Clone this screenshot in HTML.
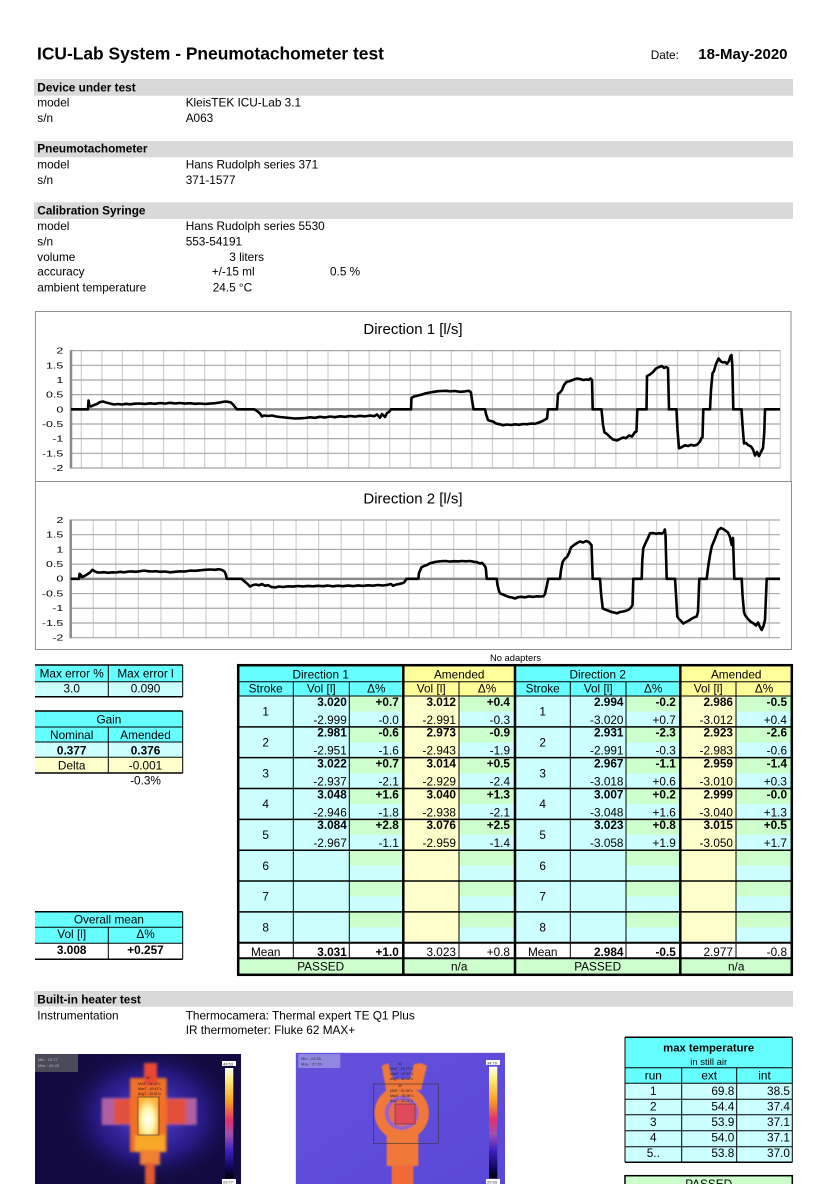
<!DOCTYPE html>
<html><head><meta charset="utf-8"><style>
html,body{margin:0;padding:0;background:#fff;}
body{width:835px;height:1184px;overflow:hidden;}
svg{display:block;}
text{font-family:"Liberation Sans",Arial,sans-serif;}
</style></head><body>
<svg width="835" height="1184" viewBox="0 0 835 1184" xmlns="http://www.w3.org/2000/svg" font-size="11.8">
<defs>
<linearGradient id="cbar" x1="0" y1="0" x2="0" y2="1">
<stop offset="0" stop-color="#ffffff"/><stop offset="0.1" stop-color="#fff080"/><stop offset="0.3" stop-color="#f8a020"/><stop offset="0.48" stop-color="#e03070"/><stop offset="0.6" stop-color="#a050b0"/><stop offset="0.75" stop-color="#4020c0"/><stop offset="0.9" stop-color="#100860"/><stop offset="1" stop-color="#000000"/>
</linearGradient>
<radialGradient id="glow1" cx="0.5" cy="0.5" r="0.5"><stop offset="0" stop-color="#5a48e0" stop-opacity="1"/><stop offset="0.6" stop-color="#3020a0" stop-opacity="0.7"/><stop offset="1" stop-color="#120a40" stop-opacity="0"/></radialGradient>
<radialGradient id="core" cx="0.5" cy="0.6" r="0.6"><stop offset="0" stop-color="#ffffff"/><stop offset="0.5" stop-color="#fff6b0"/><stop offset="1" stop-color="#ffb030"/></radialGradient>
<linearGradient id="bg2" x1="0" y1="0" x2="1" y2="1"><stop offset="0" stop-color="#6450dc"/><stop offset="1" stop-color="#5a48d8"/></linearGradient>
<clipPath id="c1"><rect x="35" y="1054" width="206" height="130"/></clipPath>
<clipPath id="c2"><rect x="295.7" y="1052.7" width="209.3" height="131.3"/></clipPath>
<clipPath id="c3"><rect x="600" y="1170" width="200" height="14"/></clipPath>
<filter id="bl" x="-20%" y="-20%" width="140%" height="140%"><feGaussianBlur stdDeviation="1.3"/></filter>
<filter id="bl2" x="-20%" y="-20%" width="140%" height="140%"><feGaussianBlur stdDeviation="0.6"/></filter>
</defs>

<!-- Header -->
<text x="37" y="59.7" font-size="17.4" font-weight="bold">ICU-Lab System - Pneumotachometer test</text>
<text x="650.7" y="59">Date:</text>
<text x="698.3" y="59" font-size="15" font-weight="bold">18-May-2020</text>

<rect x="34" y="79" width="759" height="16.7" fill="#d9d9d9"/>
<text x="37.3" y="91.3" font-weight="bold">Device under test</text>
<text x="37.3" y="106.5">model</text><text x="185.7" y="106.5">KleisTEK ICU-Lab 3.1</text>
<text x="37.3" y="122">s/n</text><text x="185.7" y="122">A063</text>

<rect x="34" y="141" width="759" height="16.3" fill="#d9d9d9"/>
<text x="37.3" y="152.7" font-weight="bold">Pneumotachometer</text>
<text x="37.3" y="168.3">model</text><text x="185.7" y="168.3">Hans Rudolph series 371</text>
<text x="37.3" y="184">s/n</text><text x="185.7" y="184">371-1577</text>

<rect x="34" y="202.3" width="759" height="16.7" fill="#d9d9d9"/>
<text x="37.3" y="214.7" font-weight="bold">Calibration Syringe</text>
<text x="37.3" y="230">model</text><text x="185.7" y="230">Hans Rudolph series 5530</text>
<text x="37.3" y="245.3">s/n</text><text x="185.7" y="245.3">553-54191</text>
<text x="37.3" y="261">volume</text><text x="229.3" y="261">3 liters</text>
<text x="37.3" y="275.7">accuracy</text><text x="211.7" y="275.7">+/-15 ml</text><text x="330" y="275.7">0.5 %</text>
<text x="37.3" y="291.7">ambient temperature</text><text x="212.7" y="291.7">24.5 °C</text>

<!-- Chart 1 -->
<rect x="35.5" y="311.5" width="755.5" height="170" fill="#fff" stroke="#909090" stroke-width="1"/>
<text x="413" y="334" font-size="15" text-anchor="middle">Direction 1 [l/s]</text>
<path d="M81.3 350.7V468M101.86 350.7V468M122.42 350.7V468M142.98 350.7V468M163.54 350.7V468M184.1 350.7V468M204.66 350.7V468M225.22 350.7V468M245.78 350.7V468M266.34 350.7V468M286.9 350.7V468M307.46 350.7V468M328.02 350.7V468M348.58 350.7V468M369.14 350.7V468M389.7 350.7V468M410.26 350.7V468M430.82 350.7V468M451.38 350.7V468M471.94 350.7V468M492.5 350.7V468M513.06 350.7V468M533.62 350.7V468M554.18 350.7V468M574.74 350.7V468M595.3 350.7V468M615.86 350.7V468M636.42 350.7V468M656.98 350.7V468M677.54 350.7V468M698.1 350.7V468M718.66 350.7V468M739.22 350.7V468M759.78 350.7V468M780.34 350.7V468" stroke="#cfcfcf" stroke-width="1.2" fill="none"/>
<path d="M71 350.66H780.3M71 365.33H780.3M71 380H780.3M71 394.66H780.3M71 424H780.3M71 438.66H780.3M71 453.33H780.3M71 468H780.3" stroke="#a8a8a8" stroke-width="1.2" fill="none"/>
<path d="M71 409.33H780.3" stroke="#8a8a8a" stroke-width="2.5"/>
<path d="M71 350.2V468.5" stroke="#8a8a8a" stroke-width="2.5"/>
<g font-size="8.3" text-anchor="end">
<text transform="translate(63.3,353.6) scale(1.5,1)">2</text>
<text transform="translate(63.3,368.3) scale(1.5,1)">1.5</text>
<text transform="translate(63.3,382.9) scale(1.5,1)">1</text>
<text transform="translate(63.3,397.6) scale(1.5,1)">0.5</text>
<text transform="translate(63.3,412.3) scale(1.5,1)">0</text>
<text transform="translate(63.3,426.9) scale(1.5,1)">-0.5</text>
<text transform="translate(63.3,441.6) scale(1.5,1)">-1</text>
<text transform="translate(63.3,456.3) scale(1.5,1)">-1.5</text>
<text transform="translate(63.3,470.9) scale(1.5,1)">-2</text>
</g>
<polyline fill="none" stroke="#000" stroke-width="2.6" stroke-linejoin="round" points="71,409.3 88,409.3 88.5,400.5 89.5,406 91,406.5 94,405 97,404 100,402 103,401.5 106,402.5 110,403.5 114,404.5 118,404 122,404.5 126,403.8 130,404.3 135,403.7 140,403.5 145,404 150,403.3 155,403.8 160,403 165,403.6 170,402.8 175,403.4 180,403 185,403.6 190,403.2 195,403.8 200,403.5 205,404 210,403.6 215,403.2 220,402.5 225,401.5 228,401.8 231,402.5 233,404.5 235,407 237,409.3 254,409.3 257,411 260,413.5 262,416.5 264,415.5 268,416 272,415.5 276,416.5 280,417 285,417.5 290,418 295,418.5 300,418.3 305,418 310,417.3 315,417.8 320,416.8 325,417.5 330,416.5 335,417.2 340,416.3 345,416.8 350,416 355,416.6 360,415.8 365,416.4 370,415.5 374,416.2 377,414.5 380,417.8 382,414 385,417 387,413 389,412 391,409.3 411,409.3 411.5,398 414,396.5 418,395.5 422,394.5 426,393.3 430,392.5 434,391.8 438,391.2 442,391 446,390.8 450,391.3 455,391 460,391.8 465,391.4 469,390.8 471,392.5 472,400 473.5,409.3 485,409.3 486,414 488,420 490,420.8 493,421.5 496,423.5 500,424.3 503,425.2 507,424.5 511,425 515,424.3 519,424.8 523,424 527,424.2 531,423.6 535,423.8 539,422.5 543,420.8 546,419 547,418.5 548,409.3 557,409.3 558,394 560,392.5 562,390 564,385 566.5,382 570,381 574,379.5 577,378.5 580,379 583,380 586,379.5 589,379.8 590.5,378.5 592,380 592.7,409.3 601.5,409.3 603,425 604.5,432.5 607,434 610,437 613,439.5 617,440.5 620,439 623,437.5 626,438.2 629,435.5 632,436.5 635,432 636.5,431.5 637.3,409.3 646.5,409.3 647,376 650,374.5 653,372 656,368.5 659,367 662,366 664,368 666,367 668,368 669,409.3 676.5,409.3 677.5,430 679,448.3 682,447 685,445.2 688,446 691,444.8 694,445.6 697,444.8 700,441.5 701.5,438 702.5,437.5 703.3,409.3 710,409.3 711,390 712.5,373.3 714,371 716,364 718.5,358.5 721,361.5 723,362.5 725,362 727,363.8 729,361 730.5,356 731.5,355 732.3,365 733.3,409.3 741.5,409.3 742.5,425 744,443.5 746,443 748,445 751,446.5 753,449.5 755,455.5 757,452 759,456 761.5,451 763,448 764.3,432 765,409.3 780,409.3"/>

<!-- Chart 2 -->
<rect x="35.5" y="481.5" width="756" height="168" fill="#fff" stroke="#909090" stroke-width="1"/>
<text x="413" y="503.3" font-size="15" text-anchor="middle">Direction 2 [l/s]</text>
<path d="M93.3 520V637.7M115.83 520V637.7M138.36 520V637.7M160.89 520V637.7M183.42 520V637.7M205.95 520V637.7M228.48 520V637.7M251.01 520V637.7M273.54 520V637.7M296.07 520V637.7M318.6 520V637.7M341.13 520V637.7M363.66 520V637.7M386.19 520V637.7M408.72 520V637.7M431.25 520V637.7M453.78 520V637.7M476.31 520V637.7M498.84 520V637.7M521.37 520V637.7M543.9 520V637.7M566.43 520V637.7M588.96 520V637.7M611.49 520V637.7M634.02 520V637.7M656.55 520V637.7M679.08 520V637.7M701.61 520V637.7M724.14 520V637.7M746.67 520V637.7M769.2 520V637.7" stroke="#cfcfcf" stroke-width="1.2" fill="none"/>
<path d="M70.7 520H780M70.7 534.71H780M70.7 549.42H780M70.7 564.13H780M70.7 593.55H780M70.7 608.26H780M70.7 622.97H780M70.7 637.68H780" stroke="#a8a8a8" stroke-width="1.2" fill="none"/>
<path d="M70.7 578.84H780" stroke="#8a8a8a" stroke-width="2.5"/>
<path d="M70.7 519.5V638.2" stroke="#8a8a8a" stroke-width="2.5"/>
<g font-size="8.3" text-anchor="end">
<text transform="translate(63.3,522.9) scale(1.5,1)">2</text>
<text transform="translate(63.3,537.6) scale(1.5,1)">1.5</text>
<text transform="translate(63.3,552.3) scale(1.5,1)">1</text>
<text transform="translate(63.3,567) scale(1.5,1)">0.5</text>
<text transform="translate(63.3,581.7) scale(1.5,1)">0</text>
<text transform="translate(63.3,596.4) scale(1.5,1)">-0.5</text>
<text transform="translate(63.3,611.1) scale(1.5,1)">-1</text>
<text transform="translate(63.3,625.8) scale(1.5,1)">-1.5</text>
<text transform="translate(63.3,640.5) scale(1.5,1)">-2</text>
</g>
<polyline fill="none" stroke="#000" stroke-width="2.6" stroke-linejoin="round" points="70.7,578.8 79,578.8 79.5,573.8 81,575 82,577.2 84,576.2 87,574.5 90,572.5 92.5,569.8 94.5,571.2 97,572.3 100,572.6 104,572.2 108,572.8 112,572.3 116,572.5 120,571.8 124,572.3 128,571.6 132,571.4 136,571.8 140,571.2 144,570.6 148,571.2 152,571.5 156,571.2 160,571.8 165,571.5 170,572.3 175,571.8 180,571.3 185,571.5 190,570.6 195,570.8 200,570.3 205,569.8 210,569.5 215,569.8 219,569.2 222,570 224.5,571.5 226,575 226.7,578.8 241.5,578.8 244,581 247,583.5 250,586.5 253,585 256,584.5 259,585.3 262,584 265,585.8 268,585.2 271,586.8 275,587.5 279,586.5 283,587 288,586.3 293,586.6 298,586 303,586.4 308,585.9 313,586.3 318,585.8 323,586.2 328,585.6 333,586.3 338,585.7 343,586.2 348,585.6 353,586.1 358,585.4 363,585.9 368,585.3 373,585.7 378,585 383,585.5 388,584.8 391,584 393,585.8 396,584.6 399,584 402,583.3 404,582.5 406.7,578.8 418.3,578.8 419,573 421.5,567.3 424,566 427,565 430,563.3 434,562.2 438,561.5 442,561.2 446,561 450,561.6 454,561.2 458,561.4 462,561 466,561.3 470,561 474,561.8 477,562.2 480,563.5 482,562.8 484,565 485.5,567 486,570 486.7,578.8 496.7,578.8 497.5,585 499,591 500,593.3 503,594.5 506,595.8 509,597 512,597.5 515,598.5 518,597.2 521,596.8 525,597.3 529,596.4 533,596.9 537,596.3 541,596.5 543.5,596.2 545,594 548.3,578.8 560,578.8 561,570 562.7,561.7 565,558.5 567,557 569,553 571,547.5 574,545 577,543 580,541.5 583,542.5 586,541 589,542.2 590.5,544 591.5,545 592.7,578.8 600,578.8 601,593 602.7,608.3 605,609.5 608,610.5 611,611.8 614,612.5 617,613.3 620,612 623,611.5 626,610.8 629,609.5 631,607.5 632.5,605 633.3,578.8 641.7,578.8 642.3,560 643.3,548.3 646,542 648,538 650,533.3 653,533 656,533.8 659,533.2 662,533.6 664,532 664.8,529.5 665.5,535 666.7,578.8 675,578.8 676,595 677.3,616.7 679,619 681,621 683.3,623.5 686,622 689,620.5 692,618.5 694,617.5 696.7,616.5 698,612 699.3,578.8 706.7,578.8 708,568 710,555 711.7,546.7 714,541 716,536 718.3,530 721,528 724,529.5 726,531 728,532.5 730,537 731.7,545 733,538 734.3,578.8 741.7,578.8 742.5,595 744,612 745,615 748,619 751,622 753.3,623.3 756,625.5 758,622.5 760,627 761.7,630 763.5,626 765,620 766.7,578.8 780,578.8"/>

<text x="515.5" y="661" font-size="9.4" text-anchor="middle">No adapters</text>

<!-- Left small tables -->
<rect x="35" y="665" width="147.7" height="16.7" fill="#66ffff"/>
<rect x="35" y="681.7" width="147.7" height="15" fill="#ccffff"/>
<path d="M35 665H182.7M35 696.7H182.7" stroke="#000" stroke-width="1.5"/>
<path d="M35 681.7H182.7M108.3 665V696.7M182.7 665V696.7" stroke="#000" stroke-width="1"/>
<text x="71.7" y="677.3" text-anchor="middle">Max error %</text>
<text x="145.5" y="677.3" text-anchor="middle">Max error l</text>
<text x="71.7" y="692.3" text-anchor="middle">3.0</text>
<text x="145.5" y="692.3" text-anchor="middle">0.090</text>

<rect x="35" y="711" width="147.7" height="31" fill="#66ffff"/>
<rect x="35" y="742" width="147.7" height="15.3" fill="#ccffff"/>
<rect x="35" y="757.3" width="147.7" height="15.7" fill="#ffffcc"/>
<path d="M35 711H182.7M35 773H182.7" stroke="#000" stroke-width="1.5"/>
<path d="M35 727H182.7M35 742H182.7M35 757.3H182.7M108.3 727V773M182.7 711V773" stroke="#000" stroke-width="1"/>
<text x="108.9" y="723.3" text-anchor="middle">Gain</text>
<text x="71.7" y="739" text-anchor="middle">Nominal</text>
<text x="145.5" y="739" text-anchor="middle">Amended</text>
<text x="71.7" y="754.3" text-anchor="middle" font-weight="bold">0.377</text>
<text x="145.5" y="754.3" text-anchor="middle" font-weight="bold">0.376</text>
<text x="71.7" y="769.3" text-anchor="middle">Delta</text>
<text x="145.5" y="769.3" text-anchor="middle">-0.001</text>
<text x="145.5" y="784.3" text-anchor="middle">-0.3%</text>

<rect x="35" y="911.7" width="147.7" height="31.6" fill="#66ffff"/>
<path d="M35 911.7H182.7M35 959.3H182.7" stroke="#000" stroke-width="1.5"/>
<path d="M35 927.3H182.7M35 943.3H182.7M108.3 927.3V959.3M182.7 911.7V959.3" stroke="#000" stroke-width="1"/>
<text x="108.9" y="923.3" text-anchor="middle">Overall mean</text>
<text x="71.7" y="938" text-anchor="middle">Vol [l]</text>
<text x="145.5" y="938" text-anchor="middle">Δ%</text>
<text x="71.7" y="954" text-anchor="middle" font-weight="bold">3.008</text>
<text x="145.5" y="954" text-anchor="middle" font-weight="bold">+0.257</text>

<!-- Main table backgrounds -->
<rect x="238" y="665" width="165.3" height="31" fill="#66ffff"/>
<rect x="403.3" y="665" width="111.7" height="31" fill="#ffff99"/>
<rect x="515" y="665" width="165.3" height="31" fill="#66ffff"/>
<rect x="680.3" y="665" width="111.7" height="31" fill="#ffff99"/>
<rect x="238" y="696" width="165.3" height="246.7" fill="#ccffff"/>
<rect x="403.3" y="696" width="55.7" height="246.7" fill="#ffffcc"/>
<rect x="459" y="696" width="56" height="246.7" fill="#ccffff"/>
<rect x="515" y="696" width="165.3" height="246.7" fill="#ccffff"/>
<rect x="680.3" y="696" width="55.7" height="246.7" fill="#ffffcc"/>
<rect x="736" y="696" width="56" height="246.7" fill="#ccffff"/>
<g fill="#ccffcc">
<rect x="349.3" y="696" width="54" height="15.4"/><rect x="459" y="696" width="56" height="15.4"/><rect x="626" y="696" width="54.3" height="15.4"/><rect x="736" y="696" width="56" height="15.4"/>
<rect x="349.3" y="726.84" width="54" height="15.4"/><rect x="459" y="726.84" width="56" height="15.4"/><rect x="626" y="726.84" width="54.3" height="15.4"/><rect x="736" y="726.84" width="56" height="15.4"/>
<rect x="349.3" y="757.68" width="54" height="15.4"/><rect x="459" y="757.68" width="56" height="15.4"/><rect x="626" y="757.68" width="54.3" height="15.4"/><rect x="736" y="757.68" width="56" height="15.4"/>
<rect x="349.3" y="788.52" width="54" height="15.4"/><rect x="459" y="788.52" width="56" height="15.4"/><rect x="626" y="788.52" width="54.3" height="15.4"/><rect x="736" y="788.52" width="56" height="15.4"/>
<rect x="349.3" y="819.36" width="54" height="15.4"/><rect x="459" y="819.36" width="56" height="15.4"/><rect x="626" y="819.36" width="54.3" height="15.4"/><rect x="736" y="819.36" width="56" height="15.4"/>
<rect x="349.3" y="850.2" width="54" height="15.4"/><rect x="459" y="850.2" width="56" height="15.4"/><rect x="626" y="850.2" width="54.3" height="15.4"/><rect x="736" y="850.2" width="56" height="15.4"/>
<rect x="349.3" y="881.04" width="54" height="15.4"/><rect x="459" y="881.04" width="56" height="15.4"/><rect x="626" y="881.04" width="54.3" height="15.4"/><rect x="736" y="881.04" width="56" height="15.4"/>
<rect x="349.3" y="911.88" width="54" height="15.4"/><rect x="459" y="911.88" width="56" height="15.4"/><rect x="626" y="911.88" width="54.3" height="15.4"/><rect x="736" y="911.88" width="56" height="15.4"/>
<rect x="238" y="958.3" width="554" height="16.7"/>
</g>
<rect x="238" y="942.7" width="554" height="15.6" fill="#ffffff"/>

<!-- Main table lines -->
<path d="M293.3 681.7V958.3M349.3 681.7V958.3M459 681.7V958.3M570.3 681.7V958.3M626 681.7V958.3M736 681.7V958.3M238 681.7H792M238 696H792" stroke="#000" stroke-width="1" fill="none"/>
<path d="M238 726.84H792M238 757.68H792M238 788.52H792M238 819.36H792M238 850.2H792M238 881.04H792M238 911.88H792" stroke="#000" stroke-width="1.5" fill="none"/>
<path d="M238 942.7H792M238 958.3H792" stroke="#000" stroke-width="2" fill="none"/>
<path d="M403.3 665V975M515 665V975M680.3 665V975" stroke="#000" stroke-width="2.5" fill="none"/>
<rect x="238.2" y="665.2" width="553.6" height="309.6" fill="none" stroke="#000" stroke-width="2.5"/>

<!-- Main table text -->
<g text-anchor="middle">
<text x="320.7" y="678.3">Direction 1</text><text x="459.2" y="678.3">Amended</text>
<text x="597.7" y="678.3">Direction 2</text><text x="736.2" y="678.3">Amended</text>
<text x="265.7" y="692.7">Stroke</text><text x="321.3" y="692.7">Vol [l]</text><text x="376.3" y="692.7">Δ%</text><text x="431.2" y="692.7">Vol [l]</text><text x="487" y="692.7">Δ%</text>
<text x="542.7" y="692.7">Stroke</text><text x="598.2" y="692.7">Vol [l]</text><text x="653.2" y="692.7">Δ%</text><text x="708.2" y="692.7">Vol [l]</text><text x="764" y="692.7">Δ%</text>
<text x="265.7" y="715.6">1</text><text x="542.7" y="715.6">1</text>
<text x="265.7" y="746.4">2</text><text x="542.7" y="746.4">2</text>
<text x="265.7" y="777.3">3</text><text x="542.7" y="777.3">3</text>
<text x="265.7" y="808.1">4</text><text x="542.7" y="808.1">4</text>
<text x="265.7" y="839">5</text><text x="542.7" y="839">5</text>
<text x="265.7" y="869.8">6</text><text x="542.7" y="869.8">6</text>
<text x="265.7" y="900.6">7</text><text x="542.7" y="900.6">7</text>
<text x="265.7" y="931.5">8</text><text x="542.7" y="931.5">8</text>
<text x="265.7" y="956">Mean</text><text x="542.7" y="956">Mean</text>
<text x="320.7" y="970.7">PASSED</text><text x="459.2" y="970.7">n/a</text>
<text x="597.7" y="970.7">PASSED</text><text x="736.2" y="970.7">n/a</text>
</g>
<g text-anchor="end" font-weight="bold">
<text x="346.8" y="705.8">3.020</text><text x="398.8" y="705.8">+0.7</text><text x="456" y="705.8">3.012</text><text x="510" y="705.8">+0.4</text>
<text x="623.5" y="705.8">2.994</text><text x="675.8" y="705.8">-0.2</text><text x="733" y="705.8">2.986</text><text x="787" y="705.8">-0.5</text>
<text x="346.8" y="736.6">2.981</text><text x="398.8" y="736.6">-0.6</text><text x="456" y="736.6">2.973</text><text x="510" y="736.6">-0.9</text>
<text x="623.5" y="736.6">2.931</text><text x="675.8" y="736.6">-2.3</text><text x="733" y="736.6">2.923</text><text x="787" y="736.6">-2.6</text>
<text x="346.8" y="767.5">3.022</text><text x="398.8" y="767.5">+0.7</text><text x="456" y="767.5">3.014</text><text x="510" y="767.5">+0.5</text>
<text x="623.5" y="767.5">2.967</text><text x="675.8" y="767.5">-1.1</text><text x="733" y="767.5">2.959</text><text x="787" y="767.5">-1.4</text>
<text x="346.8" y="798.3">3.048</text><text x="398.8" y="798.3">+1.6</text><text x="456" y="798.3">3.040</text><text x="510" y="798.3">+1.3</text>
<text x="623.5" y="798.3">3.007</text><text x="675.8" y="798.3">+0.2</text><text x="733" y="798.3">2.999</text><text x="787" y="798.3">-0.0</text>
<text x="346.8" y="829.2">3.084</text><text x="398.8" y="829.2">+2.8</text><text x="456" y="829.2">3.076</text><text x="510" y="829.2">+2.5</text>
<text x="623.5" y="829.2">3.023</text><text x="675.8" y="829.2">+0.8</text><text x="733" y="829.2">3.015</text><text x="787" y="829.2">+0.5</text>
<text x="346.8" y="956">3.031</text><text x="398.8" y="956">+1.0</text>
<text x="623.5" y="956">2.984</text><text x="675.8" y="956">-0.5</text>
</g>
<g text-anchor="end">
<text x="346.8" y="723.8">-2.999</text><text x="398.8" y="723.8">-0.0</text><text x="456" y="723.8">-2.991</text><text x="510" y="723.8">-0.3</text>
<text x="623.5" y="723.8">-3.020</text><text x="675.8" y="723.8">+0.7</text><text x="733" y="723.8">-3.012</text><text x="787" y="723.8">+0.4</text>
<text x="346.8" y="754.6">-2.951</text><text x="398.8" y="754.6">-1.6</text><text x="456" y="754.6">-2.943</text><text x="510" y="754.6">-1.9</text>
<text x="623.5" y="754.6">-2.991</text><text x="675.8" y="754.6">-0.3</text><text x="733" y="754.6">-2.983</text><text x="787" y="754.6">-0.6</text>
<text x="346.8" y="785.5">-2.937</text><text x="398.8" y="785.5">-2.1</text><text x="456" y="785.5">-2.929</text><text x="510" y="785.5">-2.4</text>
<text x="623.5" y="785.5">-3.018</text><text x="675.8" y="785.5">+0.6</text><text x="733" y="785.5">-3.010</text><text x="787" y="785.5">+0.3</text>
<text x="346.8" y="816.3">-2.946</text><text x="398.8" y="816.3">-1.8</text><text x="456" y="816.3">-2.938</text><text x="510" y="816.3">-2.1</text>
<text x="623.5" y="816.3">-3.048</text><text x="675.8" y="816.3">+1.6</text><text x="733" y="816.3">-3.040</text><text x="787" y="816.3">+1.3</text>
<text x="346.8" y="847.2">-2.967</text><text x="398.8" y="847.2">-1.1</text><text x="456" y="847.2">-2.959</text><text x="510" y="847.2">-1.4</text>
<text x="623.5" y="847.2">-3.058</text><text x="675.8" y="847.2">+1.9</text><text x="733" y="847.2">-3.050</text><text x="787" y="847.2">+1.7</text>
<text x="456" y="956">3.023</text><text x="510" y="956">+0.8</text>
<text x="733" y="956">2.977</text><text x="787" y="956">-0.8</text>
</g>

<!-- Built-in heater test -->
<rect x="34" y="991" width="759" height="15.7" fill="#d9d9d9"/>
<text x="37.3" y="1003.3" font-weight="bold">Built-in heater test</text>
<text x="37.3" y="1019.3">Instrumentation</text>
<text x="185.7" y="1019.3">Thermocamera: Thermal expert TE Q1 Plus</text>
<text x="185.7" y="1034">IR thermometer: Fluke 62 MAX+</text>

<!-- Thermal image 1 -->
<g clip-path="url(#c1)">
<rect x="35" y="1054" width="206" height="130" fill="#120a40"/>
<ellipse cx="150" cy="1115" rx="90" ry="72" fill="url(#glow1)"/>
<g filter="url(#bl)">
<rect x="101.7" y="1098" width="95" height="27" fill="#b060a0"/>
<rect x="114" y="1099" width="72" height="25" fill="#e2503c"/>
<rect x="130" y="1078" width="36.7" height="74" fill="#f07028"/>
<rect x="144" y="1063" width="13" height="22" fill="#e84a30"/>
<rect x="135" y="1135" width="30" height="17" fill="#f8a828"/>
<rect x="140" y="1150" width="20" height="15" fill="#f08030"/>
<rect x="145" y="1163" width="10" height="22" fill="#e05a30"/>
</g>
<rect x="138" y="1097" width="20" height="38" fill="url(#core)" filter="url(#bl2)"/>
<rect x="138" y="1097" width="21" height="38" fill="none" stroke="#333" stroke-width="0.6"/>
<rect x="35" y="1054" width="43" height="18" fill="#4a4a5a"/>
<text x="38" y="1061" font-size="4" fill="#bbb">Min : 23.77</text>
<text x="38" y="1067" font-size="4" fill="#bbb">Max : 49.43</text>
<text x="146" y="1079" font-size="3.5" fill="#222">00</text>
<text x="138" y="1085" font-size="3.5" fill="#222">MinT : 34.16°c</text>
<text x="138" y="1090" font-size="3.5" fill="#222">MaxT : 49.43°c</text>
<text x="138" y="1095" font-size="3.5" fill="#222">AvgT : 43.51°c</text>
<rect x="225" y="1068" width="8.3" height="110" fill="url(#cbar)"/>
<rect x="222" y="1061" width="14" height="5" fill="#fff"/>
<text x="223" y="1065.3" font-size="4" fill="#222">49.53</text>
<rect x="222" y="1179" width="14" height="5" fill="#fff"/>
<text x="223" y="1183.3" font-size="4" fill="#222">23.77</text>
</g>

<!-- Thermal image 2 -->
<g clip-path="url(#c2)">
<rect x="295.7" y="1052.7" width="209.3" height="131.3" fill="url(#bg2)"/>
<g filter="url(#bl2)">
<polygon points="381.7,1066 388,1063 393,1079 410,1079 414,1064 421,1063 427,1066 421,1090 386,1090" fill="#f07838"/>
<circle cx="401.7" cy="1113" r="27.2" fill="#f07838"/>
<circle cx="401.7" cy="1113" r="15" fill="none" stroke="#9a62c8" stroke-width="4"/>
<circle cx="401.7" cy="1113" r="13" fill="#e86a50"/>
<rect x="386.7" y="1134" width="31.6" height="32" fill="#f07838"/>
<rect x="391.7" y="1165" width="21.6" height="20" fill="#f06a38"/>
</g>
<rect x="395" y="1104" width="20" height="20" fill="#e04a5a" stroke="#333" stroke-width="0.5"/>
<rect x="373.3" y="1084" width="65" height="59.3" fill="none" stroke="#333" stroke-width="0.6"/>
<rect x="298.3" y="1054" width="42" height="14" fill="#9088e0"/>
<text x="301" y="1060" font-size="4" fill="#333">Min : 24.55</text>
<text x="301" y="1065.5" font-size="4" fill="#333">Max : 37.53</text>
<text x="398" y="1065" font-size="3.5" fill="#222">01</text>
<text x="390" y="1070" font-size="3.5" fill="#222">MinT : 23.17°c</text>
<text x="390" y="1075" font-size="3.5" fill="#222">MaxT : 37.53°c</text>
<text x="390" y="1080" font-size="3.5" fill="#222">AvgT : 32.12°c</text>
<text x="398" y="1087" font-size="3.5" fill="#222">00</text>
<text x="390" y="1092" font-size="3.5" fill="#222">MinT : 31.36°c</text>
<text x="390" y="1097" font-size="3.5" fill="#222">MaxT : 35.98°c</text>
<text x="390" y="1102" font-size="3.5" fill="#222">AvgT : 33.21°c</text>
<rect x="489" y="1066.7" width="8.3" height="111.6" fill="url(#cbar)"/>
<rect x="486" y="1060" width="14" height="5" fill="#fff"/>
<text x="487" y="1064.3" font-size="4" fill="#222">34.79</text>
<rect x="486" y="1179" width="14" height="5" fill="#fff"/>
<text x="487" y="1183.3" font-size="4" fill="#222">20.93</text>
</g>

<!-- Max temperature table -->
<rect x="625" y="1037.3" width="167.3" height="46" fill="#66ffff"/>
<rect x="625" y="1083.3" width="167.3" height="79" fill="#ccffff"/>
<path d="M625 1037.3H792.3M625 1162.3H792.3" stroke="#000" stroke-width="1.5"/>
<path d="M625 1067.7H792.3M625 1083.3H792.3M625 1099.3H792.3M625 1114.7H792.3M625 1130.7H792.3M625 1146.7H792.3M625 1037.3V1162.3M792.3 1037.3V1162.3M681.7 1067.7V1162.3M736.7 1067.7V1162.3" stroke="#000" stroke-width="1" fill="none"/>
<text x="708.7" y="1051.7" font-size="11.3" font-weight="bold" text-anchor="middle">max temperature</text>
<text x="708.7" y="1065" font-size="9.5" text-anchor="middle">in still air</text>
<g text-anchor="middle">
<text x="653.3" y="1079.3">run</text><text x="709.2" y="1079.3">ext</text><text x="764.5" y="1079.3">int</text>
<text x="653.3" y="1095">1</text><text x="653.3" y="1110.5">2</text><text x="653.3" y="1126">3</text><text x="653.3" y="1141.5">4</text><text x="653.3" y="1157">5..</text>
</g>
<g text-anchor="end">
<text x="734.3" y="1095">69.8</text><text x="790" y="1095">38.5</text>
<text x="734.3" y="1110.5">54.4</text><text x="790" y="1110.5">37.4</text>
<text x="734.3" y="1126">53.9</text><text x="790" y="1126">37.1</text>
<text x="734.3" y="1141.5">54.0</text><text x="790" y="1141.5">37.1</text>
<text x="734.3" y="1157">53.8</text><text x="790" y="1157">37.0</text>
</g>
<g clip-path="url(#c3)">
<rect x="625" y="1175.7" width="167.3" height="20" fill="#ccffcc" stroke="#000" stroke-width="1.5"/>
<text x="708.7" y="1188" text-anchor="middle">PASSED</text>
</g>
</svg>
</body></html>
